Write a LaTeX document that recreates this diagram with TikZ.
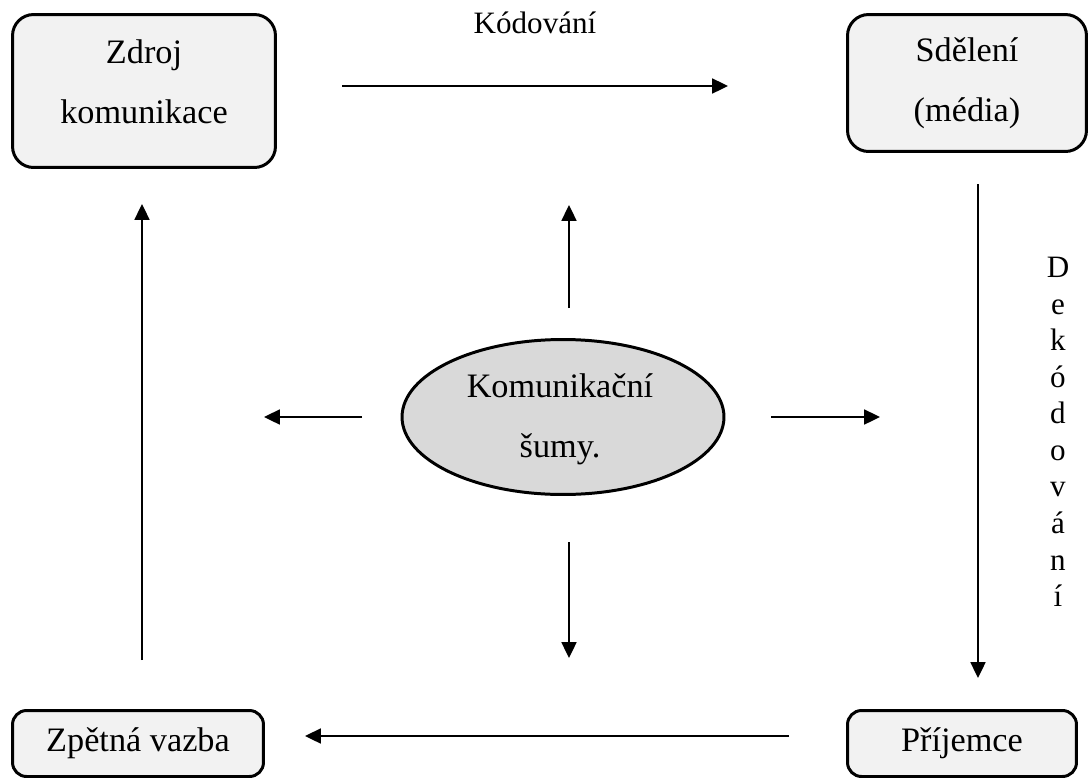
\documentclass[tikz,border=0pt]{standalone}
\usepackage{fontspec}
\setmainfont{Liberation Serif}
\usetikzlibrary{arrows.meta,shapes.geometric}
\definecolor{boxgray}{HTML}{F2F2F2}
\definecolor{noisegray}{HTML}{D9D9D9}

\begin{document}
\begin{tikzpicture}[x=0.02cm,y=-0.02cm,
    party/.style ={rectangle, draw, line width=1.7pt, fill=boxgray, align=center,
                   inner sep=0pt, font=\fontsize{19.5}{34}\selectfont},
    noise/.style ={ellipse, draw, line width=1.7pt, fill=noisegray, inner sep=0pt},
    caption/.style ={align=center, inner sep=0pt, font=\fontsize{17.7}{20.8}\selectfont},
    flow/.style ={line width=1.1pt, -{Triangle[length=9pt,width=8.5pt]}}]
   \useasboundingbox (0,0) rectangle (1089,778);

   \node[party, rounded corners=12pt, minimum width=5.26cm, minimum height=3.06cm, text depth=11pt] (zdroj) at (144,91) {Zdroj\\komunikace};
   \node[party, rounded corners=12pt, minimum width=4.78cm, minimum height=2.74cm] (sdeleni) at (967,83) {Sdělení\\(média)};
   \node[party, rounded corners=8pt, minimum width=5.02cm, minimum height=1.32cm] (zpetna) at (138,743.5) {Zpětná vazba};
   \node[party, rounded corners=8pt, minimum width=4.58cm, minimum height=1.32cm] (prijemce) at (962,743.5) {Příjemce};
   \node[noise, minimum width=6.44cm, minimum height=3.1cm] (sum) at (563,417) {};
   \node[party, draw=none, fill=none] (sumtext) at (560,419) {Komunikační\\šumy.};

   \node[caption, anchor=base] (kodovani) at (535,33) {Kódování};
   \node[caption, anchor=north] (dekodovani) at (1058,257) {D\\e\\k\\ó\\d\\o\\v\\á\\n\\í};

   \coordinate (kod1) at (342,86);
   \coordinate (kod2) at (728,86);
   \coordinate (dek1) at (978,184);
   \coordinate (dek2) at (978,678);
   \coordinate (zpet1) at (789,736);
   \coordinate (zpet2) at (305,736);
   \coordinate (zdr1) at (142,660);
   \coordinate (zdr2) at (142,204);
   \coordinate (up1) at (569,308);
   \coordinate (up2) at (569,205);
   \coordinate (down1) at (569,542);
   \coordinate (down2) at (569,658);
   \coordinate (left1) at (362,417);
   \coordinate (left2) at (264,417);
   \coordinate (right1) at (771,417);
   \coordinate (right2) at (880,417);

   \draw[flow] (kod1) to (kod2);
   \draw[flow] (dek1) to (dek2);
   \draw[flow] (zpet1) to (zpet2);
   \draw[flow] (zdr1) to (zdr2);
   \draw[flow] (up1) to (up2);
   \draw[flow] (down1) to (down2);
   \draw[flow] (left1) to (left2);
   \draw[flow] (right1) to (right2);
 \end{tikzpicture}
\end{document}
